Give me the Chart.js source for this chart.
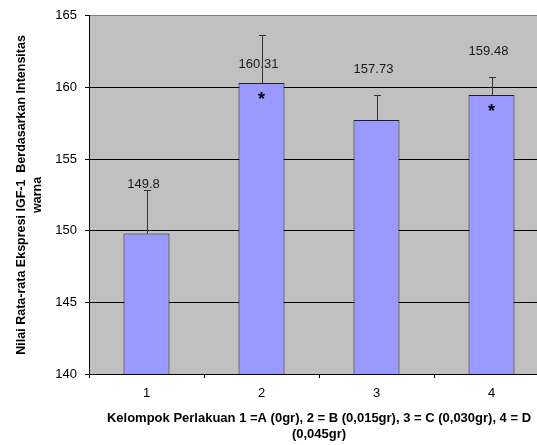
<!DOCTYPE html>
<html>
<head>
<meta charset="utf-8">
<script src="https://cdn.jsdelivr.net/npm/chart.js"></script>
<style>
  html, body { margin: 0; padding: 0; background: #fff; overflow: hidden; }
  #wrap { position: relative; width: 560px; height: 445px; }
</style>
</head>
<body>
<div id="wrap"><canvas id="c" width="560" height="445"></canvas></div>
<script>
// ---- data ----
const categories = ['1', '2', '3', '4'];
const means = [149.8, 160.31, 157.73, 159.48];
const errors = [3.03, 3.33, 1.75, 1.27];
const valueLabels = ['149.8', '160.31', '157.73', '159.48'];
const labelAt = [153.25, 161.59, 161.28, 162.51];   // where each value label sits (data units)
const significant = [false, true, false, true];
const yTicks = [140, 145, 150, 155, 160, 165];
const xTitle = ['Kelompok Perlakuan 1 =A (0gr), 2 = B (0,015gr), 3 = C (0,030gr), 4 = D', '(0,045gr)'];
const yTitle = ['Nilai Rata-rata Ekspresi IGF-1  Berdasarkan Intensitas', 'warna'];

const FONT = 'Arial, "Liberation Sans", sans-serif';

const plotBg = {
  id: 'plotBg',
  beforeDraw(chart) {
    const {ctx, chartArea: a} = chart;
    ctx.save();
    ctx.fillStyle = '#C0C0C0';
    ctx.fillRect(a.left, a.top, a.right - a.left, a.bottom - a.top);
    ctx.restore();
  }
};

const extras = {
  id: 'extras',
  afterDatasetsDraw(chart) {
    const {ctx} = chart;
    const y = chart.scales.y;
    const meta = chart.getDatasetMeta(0);
    ctx.save();
    // value labels
    ctx.fillStyle = '#1a1a1a';
    ctx.font = '13px ' + FONT;
    ctx.textAlign = 'center';
    ctx.textBaseline = 'middle';
    meta.data.forEach((bar, i) => {
      ctx.fillText(valueLabels[i], bar.x - 3, y.getPixelForValue(labelAt[i]));
    });
    // error bars
    ctx.strokeStyle = '#333333';
    ctx.lineWidth = 1;
    meta.data.forEach((bar, i) => {
      const x = Math.round(bar.x) + 0.5;
      const y0 = y.getPixelForValue(means[i]);
      const y1 = Math.round(y.getPixelForValue(means[i] + errors[i])) + 0.5;
      ctx.beginPath();
      ctx.moveTo(x, y0);
      ctx.lineTo(x, y1);
      ctx.moveTo(x - 3.5, y1);
      ctx.lineTo(x + 3.5, y1);
      ctx.stroke();
    });
    // significance asterisks
    ctx.fillStyle = '#000';
    ctx.font = 'bold 18px ' + FONT;
    ctx.textBaseline = 'top';
    meta.data.forEach((bar, i) => {
      if (significant[i]) {
        ctx.fillText('*', bar.x, y.getPixelForValue(means[i]) + 8);
      }
    });
    ctx.restore();
  }
};

new Chart(document.getElementById('c'), {
  type: 'bar',
  data: {
    labels: categories,
    datasets: [{
      data: means,
      backgroundColor: '#9999FF',
      borderColor: '#1f1f1f',
      borderWidth: 1,
      barPercentage: 0.4,
      categoryPercentage: 1.0
    }]
  },
  options: {
    responsive: false,
    animation: false,
    devicePixelRatio: 1,
    layout: { padding: { top: 13, right: 11, left: 0, bottom: 0 } },
    plugins: { legend: { display: false }, tooltip: { enabled: false } },
    scales: {
      x: {
        grid: { offset: true, drawOnChartArea: false, drawTicks: true, tickLength: 4, tickColor: '#000' },
        border: { color: '#000', width: 1 },
        ticks: { color: '#000', font: { family: FONT, size: 13 }, padding: 8 },
        title: { display: true, text: xTitle, color: '#000', font: { family: FONT, size: 13, weight: 'bold', lineHeight: 16 / 13 }, padding: { top: 0, bottom: 3 } },
        afterFit(s) { s.height = 71; }
      },
      y: {
        min: 140, max: 165,
        afterBuildTicks(s) { s.ticks = yTicks.map(v => ({ value: v })); },
        grid: {
          color: ctx => ctx.tick && ctx.tick.value === 165 ? '#808080' : '#000',
          tickColor: '#000', tickLength: 4, drawTicks: true
        },
        border: { color: '#000', width: 1 },
        ticks: { color: '#000', font: { family: FONT, size: 13 }, padding: 8 },
        title: { display: true, text: yTitle, color: '#000', font: { family: FONT, size: 12.5, weight: 'bold', lineHeight: 16 / 12.5 }, padding: { top: 14, bottom: 0 } },
        afterFit(s) { s.width = 89; }
      }
    }
  },
  plugins: [plotBg, extras]
});
</script>
</body>
</html>
